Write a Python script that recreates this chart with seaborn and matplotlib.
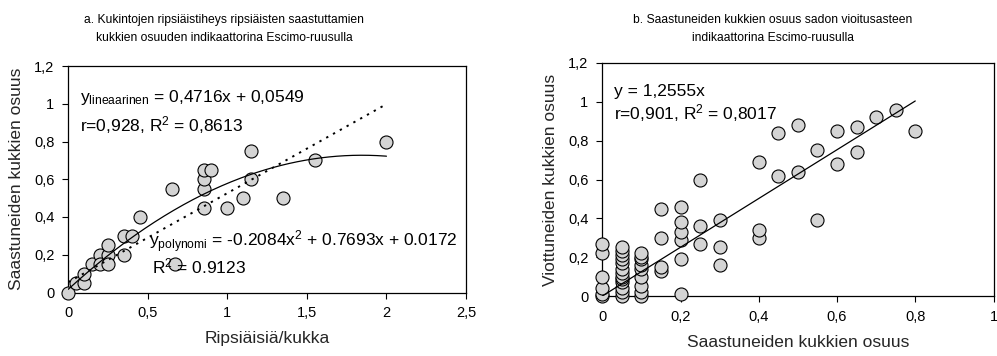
import numpy as np
import pandas as pd
import matplotlib
matplotlib.use("Agg")
import matplotlib.pyplot as plt
import seaborn as sns

# ---------------- data ----------------
# Panel a: thrips per flower vs share of infested flowers
thrips_per_flower = [0, 0.05, 0.1, 0.1, 0.15, 0.2, 0.2, 0.25, 0.25, 0.25, 0.35, 0.35,
                     0.4, 0.45, 0.65, 0.67, 0.85, 0.85, 0.85, 0.85, 0.9, 1.0, 1.1,
                     1.15, 1.15, 1.35, 1.55, 2.0]
infested_share_a = [0, 0.05, 0.05, 0.1, 0.15, 0.2, 0.15, 0.2, 0.25, 0.15, 0.2, 0.3,
                    0.3, 0.4, 0.55, 0.15, 0.45, 0.55, 0.6, 0.65, 0.65, 0.45, 0.5,
                    0.75, 0.6, 0.5, 0.7, 0.8]
lin_a = (0.4716, 0.0549)              # slope, intercept
poly_a = (-0.2084, 0.7693, 0.0172)    # a2, a1, a0

# Panel b: share of infested flowers vs share of damaged flowers
infested_share_b = ([0.0] * 6 + [0.05] * 13 + [0.1] * 9 + [0.15] * 4 + [0.2] * 6 +
                    [0.25] * 3 + [0.3] * 3 + [0.4] * 3 + [0.45] * 2 + [0.5] * 2 +
                    [0.55] * 2 + [0.6] * 2 + [0.65] * 2 + [0.7, 0.75, 0.8])
damaged_share_b = [0, 0.01, 0.04, 0.1, 0.22, 0.27,
                   0, 0.02, 0.04, 0.07, 0.09, 0.1, 0.12, 0.14, 0.17, 0.19, 0.21, 0.23, 0.25,
                   0, 0.02, 0.05, 0.1, 0.14, 0.16, 0.19, 0.2, 0.22,
                   0.13, 0.15, 0.3, 0.45,
                   0.01, 0.19, 0.29, 0.33, 0.38, 0.46,
                   0.27, 0.36, 0.6,
                   0.16, 0.25, 0.39,
                   0.3, 0.34, 0.69,
                   0.62, 0.84,
                   0.64, 0.88,
                   0.39, 0.75,
                   0.68, 0.85,
                   0.74, 0.87,
                   0.92, 0.96, 0.85]
slope_b = 1.2555

xticks_a = [0, 0.5, 1, 1.5, 2, 2.5]
xticklabels_a = ["0", "0,5", "1", "1,5", "2", "2,5"]
yticks = [0, 0.2, 0.4, 0.6, 0.8, 1.0, 1.2]
yticklabels = ["0", "0,2", "0,4", "0,6", "0,8", "1", "1,2"]
xticks_b = [0, 0.2, 0.4, 0.6, 0.8, 1.0]
xticklabels_b = ["0", "0,2", "0,4", "0,6", "0,8", "1"]

title_a = "a. Kukintojen ripsiäistiheys ripsiäisten saastuttamien\nkukkien osuuden indikaattorina Escimo-ruusulla"
title_b = "b. Saastuneiden kukkien osuus sadon vioitusasteen\nindikaattorina Escimo-ruusulla"

# ---------------- style ----------------
sns.set_theme(style="white")
plt.rcParams["font.family"] = ["Liberation Sans", "DejaVu Sans"]
plt.rcParams["mathtext.fontset"] = "custom"
plt.rcParams["mathtext.rm"] = "Liberation Sans"
plt.rcParams["mathtext.it"] = "Liberation Sans:italic"
plt.rcParams["mathtext.bf"] = "Liberation Sans:bold"

W, H = 997, 356
fig = plt.figure(figsize=(W / 100, H / 100), dpi=100)


def rect(l, r, b, t):
    return [l / W, 1 - b / H, (r - l) / W, (b - t) / H]


ax1 = fig.add_axes(rect(68.3, 466.0, 292.5, 66.0))
ax2 = fig.add_axes(rect(602.3, 993.5, 296.0, 63.0))

marker_kw = dict(s=88, color="#d4d4d4", edgecolor="black", linewidth=0.8,
                 clip_on=False, zorder=3)

# panel a
df_a = pd.DataFrame({"x": thrips_per_flower, "y": infested_share_a})
sns.scatterplot(data=df_a, x="x", y="y", ax=ax1, **marker_kw)
xs = np.linspace(0, 2, 200)
fit_df = pd.DataFrame({
    "x": xs,
    "lin": lin_a[0] * xs + lin_a[1],
    "poly": poly_a[0] * xs ** 2 + poly_a[1] * xs + poly_a[2],
})
sns.lineplot(data=fit_df, x="x", y="lin", ax=ax1, color="black", linewidth=1.4,
             linestyle=(0, (1.2, 2.8)), zorder=4)
sns.lineplot(data=fit_df, x="x", y="poly", ax=ax1, color="black", linewidth=0.9,
             zorder=4)

# panel b
df_b = pd.DataFrame({"x": infested_share_b, "y": damaged_share_b})
sns.scatterplot(data=df_b, x="x", y="y", ax=ax2, **marker_kw)
xb = np.linspace(0, 0.8, 50)
sns.lineplot(x=xb, y=slope_b * xb, ax=ax2, color="black", linewidth=0.9, zorder=4)

for ax, xt, xtl, xlim in [(ax1, xticks_a, xticklabels_a, (0, 2.5)),
                          (ax2, xticks_b, xticklabels_b, (0, 1.0))]:
    ax.set_xlim(*xlim)
    ax.set_ylim(0, 1.2)
    ax.set_xticks(xt)
    ax.set_xticklabels(xtl)
    ax.set_yticks(yticks)
    ax.set_yticklabels(yticklabels)
    for sp in ax.spines.values():
        sp.set_visible(True)
        sp.set_color("black")
        sp.set_linewidth(0.9)
    ax.tick_params(axis="both", which="major", direction="out", length=4, width=0.8,
                   color="black", labelsize=10.5, labelcolor="black", pad=6)
    ax.tick_params(bottom=True, left=True, top=False, right=False)
    ax.set_facecolor("white")

ax1.set_xlabel("Ripsiäisiä/kukka", fontsize=12.5, labelpad=8)
ax1.set_ylabel("Saastuneiden kukkien osuus", fontsize=12.5, labelpad=7)
ax2.set_xlabel("Saastuneiden kukkien osuus", fontsize=12.5, labelpad=8)
ax2.set_ylabel("Viottuneiden kukkien osuus", fontsize=12.5, labelpad=7)

tkw = dict(fontsize=12.5, color="black", va="center", ha="left", zorder=6)
ax1.text(0.074, 1.035, "y$_{\\mathrm{lineaarinen}}$ = 0,4716x + 0,0549", **tkw)
ax1.text(0.074, 0.885, "r=0,928, R$^{2}$ = 0,8613", **tkw)
ax1.text(0.51, 0.27, "y$_{\\mathrm{polynomi}}$ = -0.2084x$^{2}$ + 0.7693x + 0.0172", **tkw)
ax1.text(0.525, 0.14, "R$^{2}$ = 0.9123", **tkw)

ax2.text(0.03, 1.055, "y = 1,2555x", **tkw)
ax2.text(0.03, 0.94, "r=0,901, R$^{2}$ = 0,8017", **tkw)

fig.text(224 / W, 1 - 29 / H, title_a, ha="center", va="center", fontsize=8.7,
         linespacing=1.6, color="black")
fig.text(773 / W, 1 - 29 / H, title_b, ha="center", va="center", fontsize=8.7,
         linespacing=1.6, color="black")

fig.savefig("out.png", dpi=100, facecolor="white")
